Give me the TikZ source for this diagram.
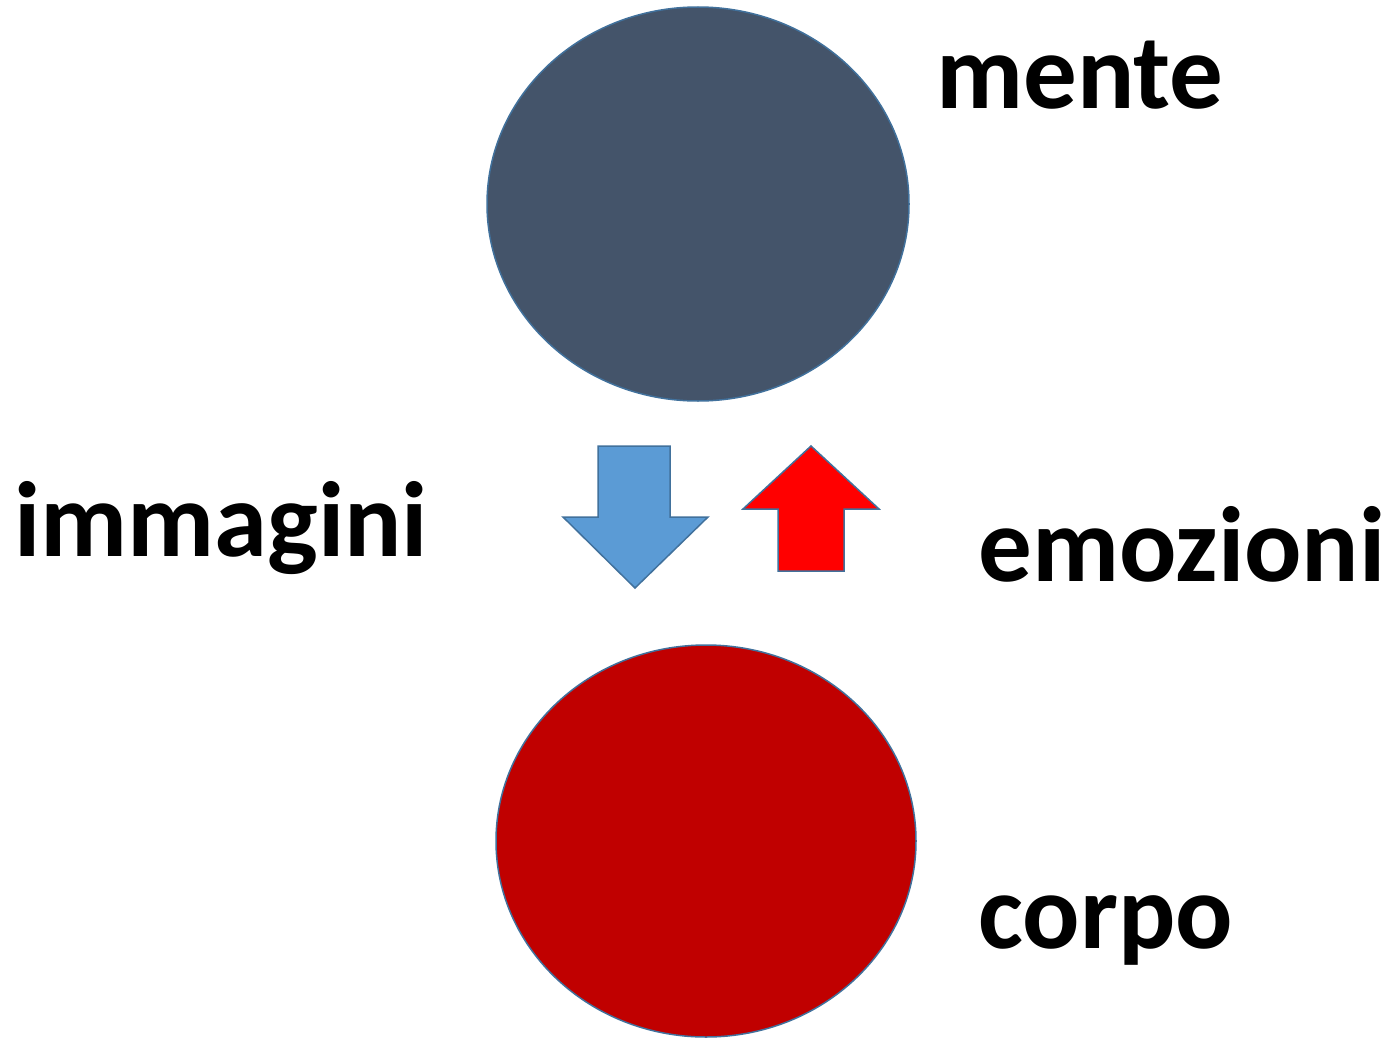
\documentclass[tikz,border=0pt]{standalone}
\usepackage{fontspec}
\setmainfont{Carlito}
\definecolor{mindc}{HTML}{44546A}
\definecolor{bodyc}{HTML}{C00000}
\definecolor{edgec}{HTML}{41719C}
\definecolor{bluec}{HTML}{5B9BD5}
\definecolor{redc}{HTML}{FF0000}
\begin{document}
\begin{tikzpicture}[x=1pt,y=-1pt,
  blob/.style={draw=edgec,line width=1.5pt},
  bigarrow/.style={draw=edgec,line width=1.5pt,line join=miter},
  word/.style={anchor=base west,inner sep=0pt,font=\fontsize{107}{112}\selectfont\bfseries}]
\useasboundingbox (0,0) rectangle (1394,1041);
\fill[white] (0,0) rectangle (1394,1041);
\draw[blob,fill=mindc] (698,204) ellipse [x radius=211,y radius=197];
\coordinate (mente) at (698,204);
\draw[blob,fill=bodyc] (706,841) ellipse [x radius=210,y radius=196];
\coordinate (corpo) at (706,841);
\draw[bigarrow,fill=bluec] (598,446) -- (670,446) -- (670,517) -- (708,517) -- (635,588) -- (563,517) -- (598,517) -- cycle;
\draw[bigarrow,fill=redc] (811,446) -- (879,509) -- (844,509) -- (844,571) -- (778,571) -- (778,509) -- (743,509) -- cycle;
\node[word] (tmente) at (936,108) {mente};
\node[word] (timm) at (14,556) {immagini};
\node[word] (temo) at (978,581) {emozioni};
\node[word] (tcorpo) at (978,948) {corpo};
\end{tikzpicture}
\end{document}
